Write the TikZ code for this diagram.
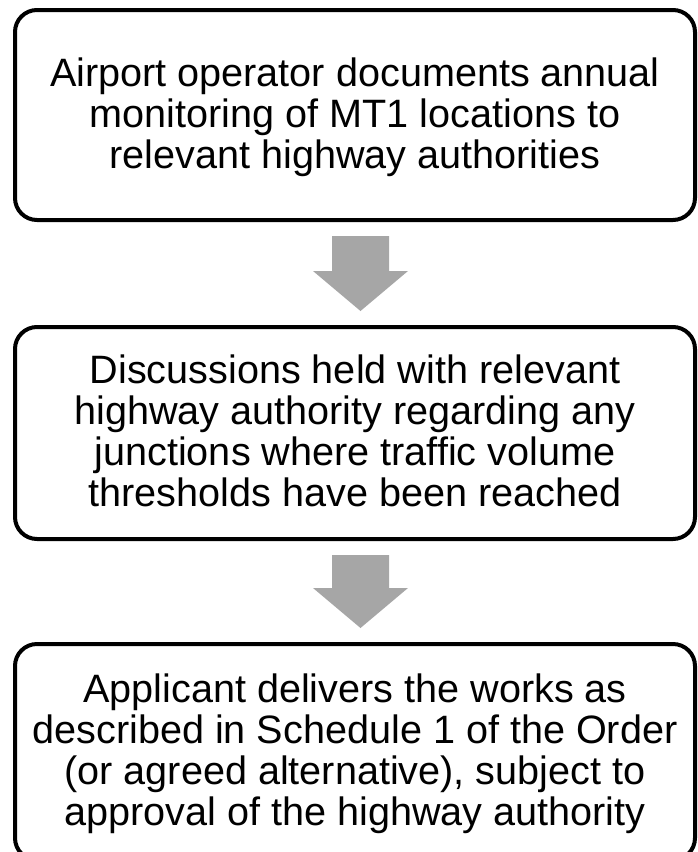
\documentclass[tikz,border=0pt]{standalone}
\usepackage{fontspec}
\setmainfont{Liberation Sans}
\usetikzlibrary{calc}
\definecolor{arrowgray}{RGB}{166,166,166}
\newcommand\lnstrut{\rule[-8.5pt]{0pt}{41pt}}
\newcommand\flowarrow[2]{%
  \fill[blockarrow] let \p1=(#1.south), \p2=(#2.north) in
    (\x1-23pt,\y1-14pt) -- (\x1+34pt,\y1-14pt) -- (\x1+34pt,\y2+54pt) --
    (\x1+53pt,\y2+54pt) -- (\x1+5.5pt,\y2+14pt) -- (\x1-42pt,\y2+54pt) --
    (\x1-23pt,\y2+54pt) -- cycle;}
\begin{document}
\begin{tikzpicture}[x=1pt,y=1pt,
  stepbox/.style={draw=black, line width=4pt, rounded corners=22pt,
    minimum width=680pt, align=center, inner sep=0pt,
    font=\fontsize{39.6}{41}\selectfont},
  blockarrow/.style={fill=arrowgray, draw=none}]
\useasboundingbox (0,0) rectangle (697,-852);
\node[stepbox, minimum height=210pt] (b1) at (355,-115)
  {\lnstrut Airport operator documents annual\\
   \lnstrut monitoring of MT1 locations to\\
   \lnstrut relevant highway authorities};
\node[stepbox, minimum height=212pt] (b2) at (355,-433)
  {\lnstrut Discussions held with relevant\\
   \lnstrut highway authority regarding any\\
   \lnstrut junctions where traffic volume\\
   \lnstrut thresholds have been reached};
\node[stepbox, minimum height=216pt] (b3) at (355,-752)
  {\lnstrut Applicant delivers the works as\\
   \lnstrut described in Schedule 1 of the Order\\
   \lnstrut (or agreed alternative), subject to\\
   \lnstrut approval of the highway authority};
\flowarrow{b1}{b2}
\flowarrow{b2}{b3}
\end{tikzpicture}
\end{document}
